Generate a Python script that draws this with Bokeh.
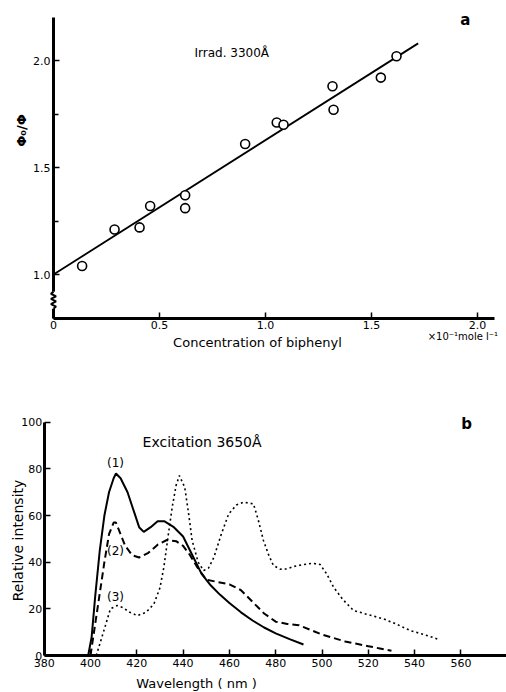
import math
from bokeh.plotting import figure
from bokeh.layouts import column
from bokeh.models import Range1d, FixedTicker, Label, LinearAxis
from bokeh.embed import file_html
from bokeh.resources import INLINE

FONT = "DejaVu Sans"

# ---------------- Panel a data ----------------
conc = [0.135, 0.288, 0.406, 0.456, 0.621, 0.621, 0.904, 1.053, 1.085, 1.316, 1.321, 1.544, 1.618]
ratio = [1.04, 1.21, 1.22, 1.32, 1.37, 1.31, 1.61, 1.71, 1.70, 1.88, 1.77, 1.92, 2.02]
fit_x = [0.0, 1.72]
fit_y = [1.0, 2.08]
a_xticks = [0.0, 0.5, 1.0, 1.5, 2.0]
a_xlabels = ["0", "0.5", "1.0", "1.5", "2.0"]
a_yticks = [1.0, 1.5, 2.0]
a_ylabels = ["1.0", "1.5", "2.0"]
a_yminor = [1.25, 1.75]
break_x = [0.0, 0.012, -0.012, 0.012, -0.012, 0.012, -0.012, 0.0]
break_y = [0.84, 0.85, 0.862, 0.874, 0.886, 0.898, 0.91, 0.92]

# ---------------- Panel b data ----------------
wl1 = [399, 400.5, 402, 404, 406, 408, 410, 411, 413, 416, 419, 421, 423, 426, 429, 432,
       436, 440, 444, 448, 452, 456, 460, 465, 470, 475, 480, 486, 492]
int1 = [0, 8, 25, 45, 60, 70, 76, 78, 76, 70, 61, 55, 53, 55, 57.5, 57.5,
        55, 51, 43, 35, 30, 26, 22.5, 18.5, 15, 12, 9.5, 7, 4.7]

wl2 = [400, 403, 406, 408, 410, 411, 413, 415, 418, 421, 425, 429, 433, 437, 440, 443,
       446, 450, 455, 460, 465, 470, 475, 480, 485, 490, 495, 500, 505, 510, 515, 520, 525, 530]
int2 = [0, 20, 40, 52, 57, 57, 52, 47, 43, 42, 44, 47.5, 49.5, 49, 47, 43,
        38, 32.5, 31.5, 30.5, 28, 23, 18, 14.5, 13.5, 13, 11, 9, 7.5, 6, 5, 4, 3, 2]

wl3 = [402.5, 405.8, 408.6, 411.5, 414, 417, 420.2, 424, 427.4, 430, 431.7, 433.5, 435.3, 437,
       438.4, 440.7, 442.5, 443.9, 446.5, 448.9, 451, 453.3, 456.5, 459.7, 463, 466.2, 470.4,
       472.5, 474.7, 477, 479, 482, 484.8, 488, 492, 496, 499.2, 502, 505, 509, 513.6, 520,
       526.6, 532, 538.1, 544, 550.4]
int3 = [0, 10.7, 20, 21.4, 20.5, 18.5, 17.1, 18.5, 22.1, 29, 37.9, 51, 63.6, 73,
        77.1, 72.1, 60, 49.3, 40, 36.4, 37.5, 42.1, 52, 60.7, 64.5, 65.7, 65,
        58, 49.3, 43, 38.6, 37, 37.1, 38.2, 39, 39.5, 39, 35, 29.3, 24, 19.3, 17.5,
        15.7, 13.5, 10.7, 9, 6.9]

b_xticks = [380, 400, 420, 440, 460, 480, 500, 520, 540, 560]
b_yticks = [0, 20, 40, 60, 80, 100]


def make_axis(ax):
    ax.axis_line_width = 3
    ax.axis_line_color = "black"
    ax.major_tick_in = 6
    ax.major_tick_out = 0
    ax.major_tick_line_width = 1.5
    ax.minor_tick_in = 5
    ax.minor_tick_out = 0
    ax.minor_tick_line_width = 1.5
    ax.major_label_text_font = FONT
    ax.major_label_text_font_size = "11px"
    ax.major_label_text_color = "black"
    ax.major_label_standoff = 3
    return ax


def base_fig(h, xr, yr):
    p = figure(width=506, height=h, output_backend="svg", toolbar_location=None,
               x_range=Range1d(*xr), y_range=Range1d(*yr),
               x_axis_location=None, y_axis_location=None, min_border=0)
    p.xgrid.grid_line_color = None
    p.ygrid.grid_line_color = None
    p.outline_line_color = None
    p.background_fill_color = "white"
    p.border_fill_color = "white"
    return p


def lbl(p, x, y, text, size="12px", bold=False, angle=0.0, align="center"):
    p.add_layout(Label(x=x, y=y, text=text, text_font=FONT, text_font_size=size,
                       text_font_style="bold" if bold else "normal", text_color="black",
                       angle=angle, text_align=align, text_baseline="middle"))


# ---------------- Figure a ----------------
pa = base_fig(355, (-53 / 212, 453 / 212), (1 - 81 / 214, 1 + 274 / 214))
xa = make_axis(LinearAxis(fixed_location=0.795, bounds=(0, 2.08)))
xa.ticker = FixedTicker(ticks=a_xticks, minor_ticks=[])
xa.major_label_overrides = {t: l for t, l in zip(a_xticks, a_xlabels)}
pa.add_layout(xa, "below")
ya = make_axis(LinearAxis(fixed_location=0, bounds=(0.795, 2.2)))
ya.ticker = FixedTicker(ticks=a_yticks, minor_ticks=a_yminor)
ya.major_label_overrides = {t: l for t, l in zip(a_yticks, a_ylabels)}
pa.add_layout(ya, "left")

pa.line(fit_x, fit_y, line_color="black", line_width=1.8)
pa.scatter(conc, ratio, marker="circle", size=9, fill_color="white",
           line_color="black", line_width=1.6)
gap = pa.quad(left=[-0.02], right=[0.02], bottom=[min(break_y)], top=[max(break_y)],
              fill_color="white", line_color=None)
gap.level = "overlay"
sq = pa.line(break_x, break_y, line_color="black", line_width=2)
sq.level = "overlay"

lbl(pa, 0.665, 2.037, "Irrad. 3300Å", size="12px", align="left")
lbl(pa, 1.943, 2.187, "a", size="15px", bold=True)
lbl(pa, -0.151, 1.673, "Φ₀/Φ", size="13px", bold=True, angle=math.pi / 2)
lbl(pa, 0.962, 0.684, "Concentration of biphenyl", size="13px")
lbl(pa, 1.765, 0.712, "×10⁻¹mole l⁻¹", size="10px", align="left")

# ---------------- Figure b ----------------
pb = base_fig(337, (380 - 43.7 / 2.315, 380 + 462.3 / 2.315), (-37 / 2.333, 300 / 2.333))
xb = make_axis(LinearAxis(fixed_location=0, bounds=(380, 579.7)))
xb.ticker = FixedTicker(ticks=b_xticks, minor_ticks=[])
pb.add_layout(xb, "below")
yb = make_axis(LinearAxis(fixed_location=380, bounds=(0, 100)))
yb.ticker = FixedTicker(ticks=b_yticks, minor_ticks=[])
yb.major_label_standoff = 2
pb.add_layout(yb, "left")

pb.line(wl1, int1, line_color="black", line_width=2)
pb.line(wl2, int2, line_color="black", line_width=2, line_dash="7 4")
pb.line(wl3, int3, line_color="black", line_width=1.6, line_dash="2 3")

lbl(pb, 422.5, 91.4, "Excitation 3650Å", size="14px", align="left")
lbl(pb, 562.5, 99.4, "b", size="15px", bold=True)
for lx, ly, lt in [(410.8, 82.3, "(1)"), (410.8, 45, "(2)"), (410.8, 25, "(3)")]:
    lbl(pb, lx, ly, lt, size="12px")
lbl(pb, 368.5, 49.3, "Relative intensity", size="14px", angle=math.pi / 2)
lbl(pb, 445.8, -11.8, "Wavelength ( nm )", size="13px")

layout = column(pa, pb, spacing=0)
open("out.html", "w").write(file_html(layout, INLINE))
